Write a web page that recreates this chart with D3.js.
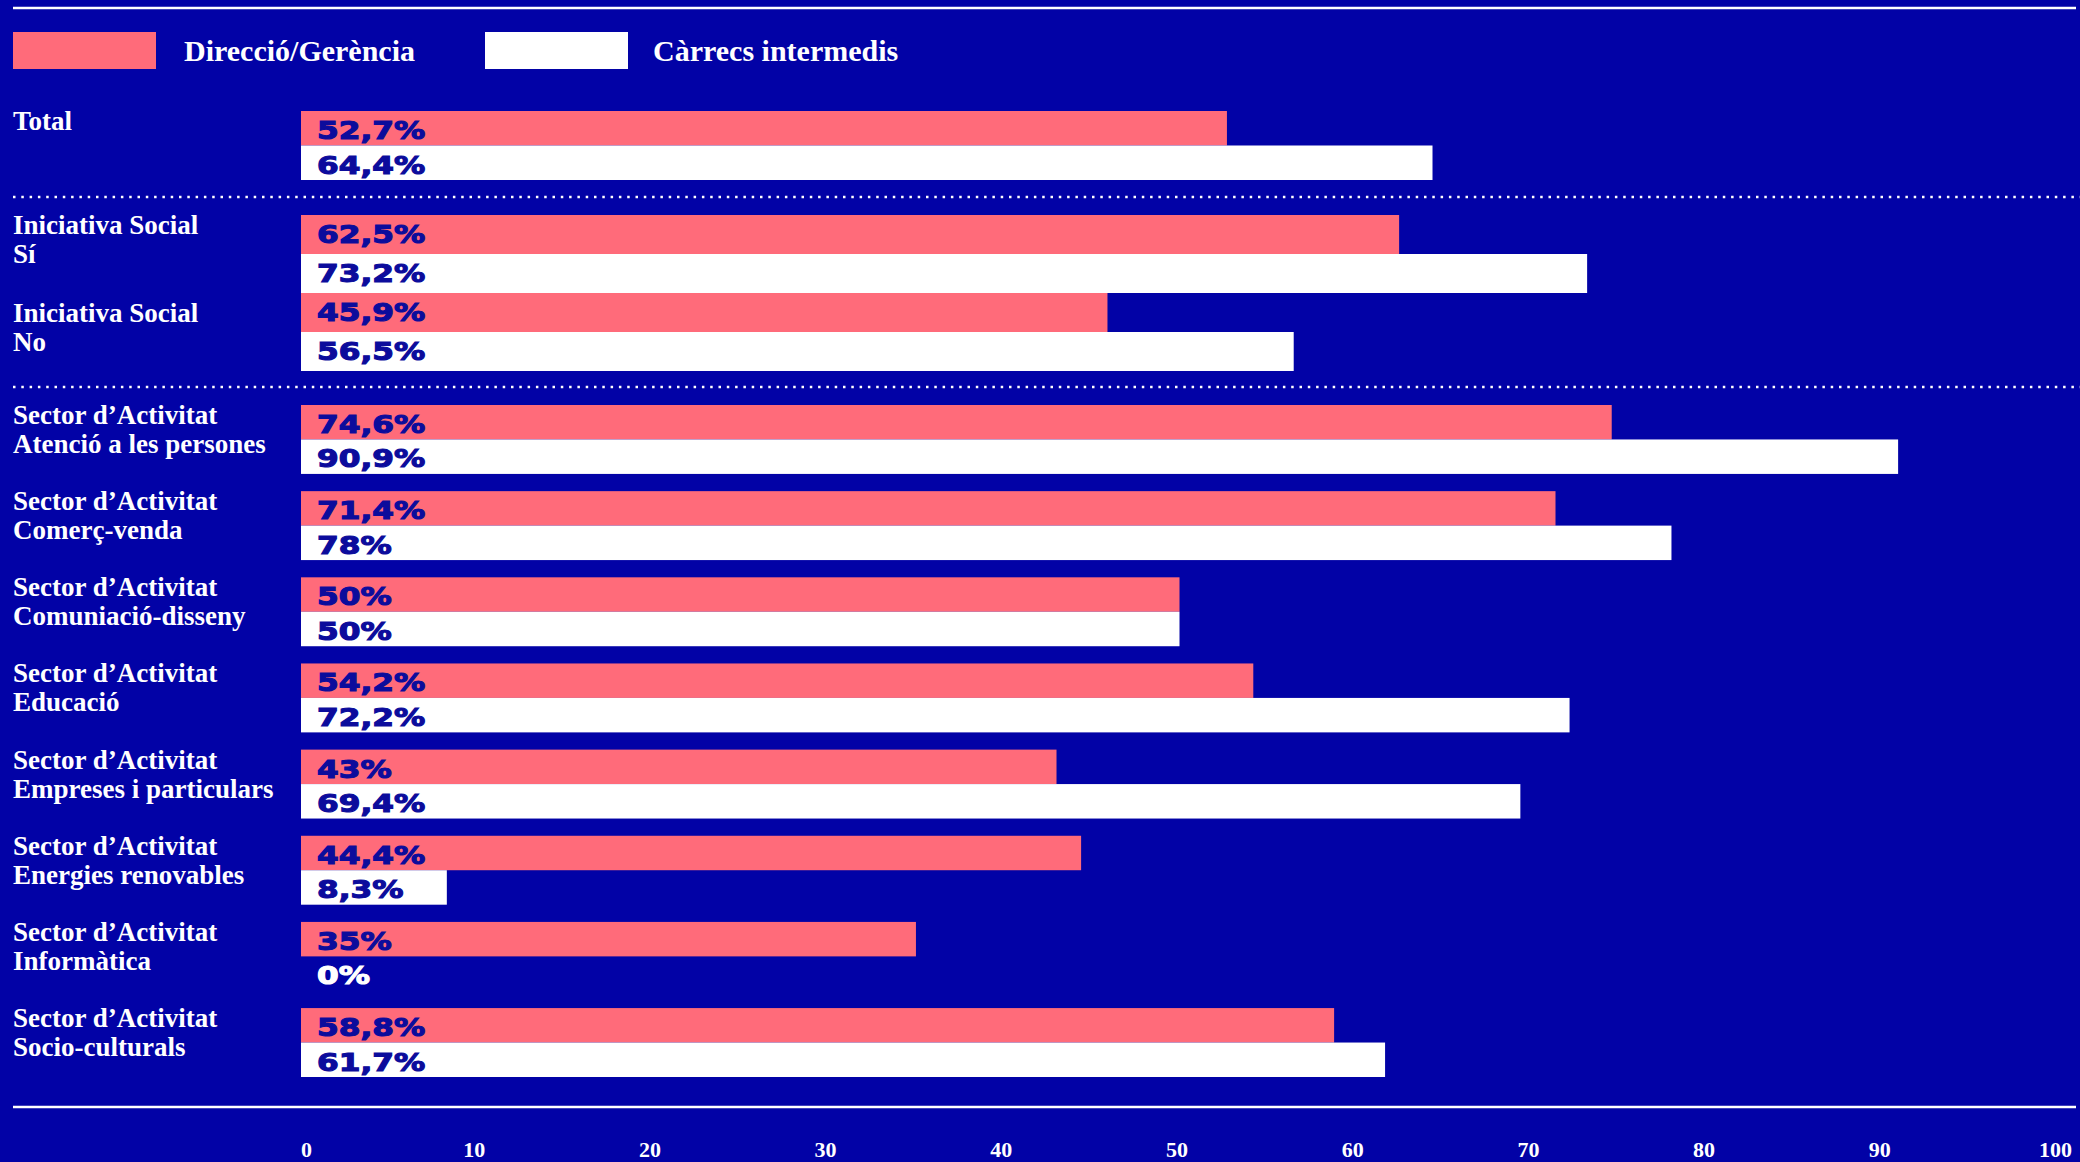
<!DOCTYPE html>
<html>
<head>
<meta charset="utf-8">
<script src="https://cdn.jsdelivr.net/npm/d3@7"></script>
<style>
  body { margin: 0; background: #0202a6; }
  svg { display: block; }
</style>
</head>
<body>
<div class="svg-content"></div>
<script>
// data
const line1 = ["Total", "Iniciativa Social", "Iniciativa Social",
  "Sector d\u2019Activitat", "Sector d\u2019Activitat", "Sector d\u2019Activitat", "Sector d\u2019Activitat",
  "Sector d\u2019Activitat", "Sector d\u2019Activitat", "Sector d\u2019Activitat", "Sector d\u2019Activitat"];
const line2 = ["", "Sí", "No", "Atenció a les persones", "Comerç-venda", "Comuniació-disseny",
  "Educació", "Empreses i particulars", "Energies renovables", "Informàtica", "Socio-culturals"];
const section = [0, 1, 1, 2, 2, 2, 2, 2, 2, 2, 2];
const direccio = [52.7, 62.5, 45.9, 74.6, 71.4, 50, 54.2, 43, 44.4, 35, 58.8];
const carrecs = [64.4, 73.2, 56.5, 90.9, 78, 50, 72.2, 69.4, 8.3, 0, 61.7];
const seriesNames = ["Direcció/Gerència", "Càrrecs intermedis"];
const tickValues = [0, 10, 20, 30, 40, 50, 60, 70, 80, 90, 100];

const svgWidth = 2080;
const svgHeight = 1162;
const bg = "#0202a6";
const pink = "#ff6b7a";
const ink = "#0c0c9c";
const serif = "'Liberation Serif', 'DejaVu Serif', serif";
const sans = "'DejaVu Sans', sans-serif";

const svg = d3.select(".svg-content")
  .append("svg")
  .attr("width", svgWidth)
  .attr("height", svgHeight);

svg.append("rect").attr("width", svgWidth).attr("height", svgHeight).attr("fill", bg);

const xScale = d3.scaleLinear().domain([0, 100]).range([301, 2058]);

// one band scale per block of rows
const sectionBands = [
  d3.scaleBand().range([111, 180]).paddingInner(0),
  d3.scaleBand().range([215, 371]).paddingInner(0),
  d3.scaleBand().range([405, 1077]).paddingInner(0.2)
];
sectionBands.forEach((band, s) => {
  band.domain(d3.range(line1.length).filter(i => section[i] === s));
});

const rows = line1.map((l, i) => ({
  i: i, l1: l, l2: line2[i], values: [direccio[i], carrecs[i]], band: sectionBands[section[i]],
  // the "No" label sits a bit lower than its bar in the original
  labelY: i === 2 ? 29 : 19
}));

// rules
svg.append("line")
   .attr("x1", 13).attr("x2", 2076).attr("y1", 8).attr("y2", 8)
   .attr("stroke", "#fff").attr("stroke-width", 2.5);
svg.append("line")
   .attr("x1", 13).attr("x2", 2076).attr("y1", 1107).attr("y2", 1107)
   .attr("stroke", "#fff").attr("stroke-width", 2.5);
[197, 387].forEach(y => {
  svg.append("line")
     .attr("x1", 13).attr("x2", 2080).attr("y1", y).attr("y2", y)
     .attr("stroke", "#fff").attr("stroke-width", 2.5)
     .attr("stroke-dasharray", "2.5 5.8");
});

// legend
const legend = svg.append("g");
[[13, 184], [485, 653]].forEach((pos, k) => {
  legend.append("rect")
        .attr("x", pos[0]).attr("y", 32)
        .attr("width", 143).attr("height", 37)
        .attr("fill", k === 0 ? pink : "#fff");
  legend.append("text")
        .attr("x", pos[1]).attr("y", 61)
        .attr("fill", "#fff")
        .style("font-family", serif)
        .style("font-weight", "bold")
        .style("font-size", "30px")
        .text(seriesNames[k]);
});

// rows
const row = svg.selectAll(".row")
  .data(rows)
  .enter()
  .append("g")
  .attr("class", "row")
  .attr("transform", d => "translate(0," + d.band(d.i) + ")");

row.append("text")
   .attr("x", 13).attr("y", d => d.labelY)
   .attr("fill", "#fff")
   .style("font-family", serif)
   .style("font-weight", "bold")
   .style("font-size", "27px")
   .text(d => d.l1);
row.append("text")
   .attr("x", 13).attr("y", d => d.labelY + 29)
   .attr("fill", "#fff")
   .style("font-family", serif)
   .style("font-weight", "bold")
   .style("font-size", "27px")
   .text(d => d.l2);

const bars = row.selectAll(".bar")
  .data(d => d.values.map((v, k) => ({ v: v, k: k, h: d.band.bandwidth() / 2 })))
  .enter()
  .append("g")
  .attr("class", "bar")
  .attr("transform", d => "translate(0," + d.k * d.h + ")");

bars.append("rect")
    .attr("x", xScale(0))
    .attr("y", 0)
    .attr("width", d => xScale(d.v) - xScale(0))
    .attr("height", d => d.h)
    .attr("fill", d => d.k === 0 ? pink : "#fff");

bars.append("text")
    .attr("transform", "translate(" + (xScale(0) + 16) + ",28) scale(1.3,1)")
    .attr("fill", d => d.v === 0 ? "#fff" : ink)
    .attr("stroke", d => d.v === 0 ? "#fff" : ink)
    .attr("stroke-width", 1.1)
    .style("font-family", sans)
    .style("font-weight", "bold")
    .style("font-size", "24px")
    .text(d => String(d.v).replace(".", ",") + "%");

// axis
const xAxis = d3.axisBottom(xScale)
  .tickValues(tickValues)
  .tickSize(0)
  .tickPadding(0);

const axis = svg.append("g")
  .attr("transform", "translate(-3,1157)")
  .call(xAxis);
axis.select(".domain").remove();
axis.selectAll("text")
    .attr("y", 0).attr("dy", 0)
    .attr("dx", d => d === 0 ? 8 : 0)
    .attr("fill", "#fff")
    .style("font-family", serif)
    .style("font-weight", "bold")
    .style("font-size", "22px");
</script>
</body>
</html>
